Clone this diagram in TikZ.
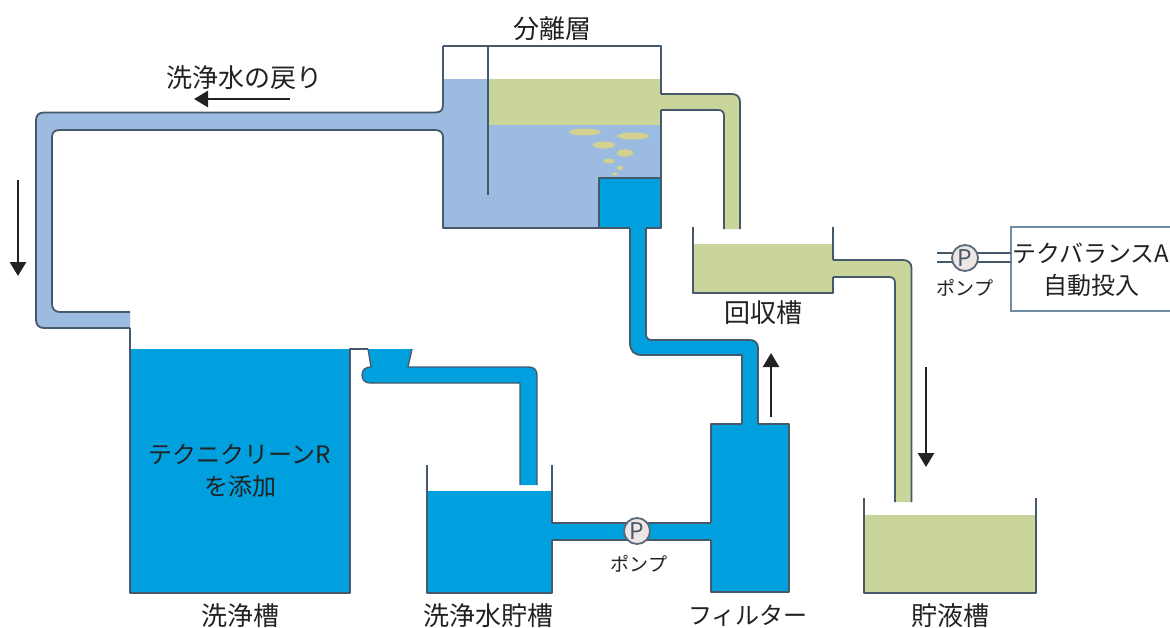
\documentclass[tikz,border=0pt]{standalone}
\usepackage{fontspec}
\setmainfont{Noto Sans CJK JP}
\usetikzlibrary{arrows.meta}
\definecolor{deep}{HTML}{009FDD}
\definecolor{pale}{HTML}{9BBBE0}
\definecolor{olive}{HTML}{C9D59B}
\definecolor{bub}{HTML}{D2D190}
\definecolor{wall}{HTML}{46596B}
\definecolor{steel}{HTML}{6F8CA5}
\definecolor{ink}{HTML}{222222}
\definecolor{pumpfill}{HTML}{EDE6E4}
\tikzset{
  wallline/.style={draw=wall,line width=1.8pt,line join=round},
  thinwall/.style={draw=wall,line width=1.3pt,line join=round},
  boxline/.style={draw=steel,line width=1.8pt},
  flowarrow/.style={draw=ink,line width=2.6pt,-{Triangle[length=14pt,width=16pt]}},
  lab/.style={font=\fontsize{26}{31}\selectfont,text=ink,inner sep=0pt,align=center},
  katalab/.style={font=\fontsize{24}{32}\selectfont,text=ink,inner sep=0pt,align=center},
  smalllab/.style={font=\fontsize{19}{22}\selectfont,text=ink,inner sep=0pt},
  pumpc/.style={circle,draw=wall!90,line width=1.8pt,fill=pumpfill,minimum size=26pt,inner sep=0pt,font=\fontsize{23}{23}\selectfont,text=wall}
}
\begin{document}
\begin{tikzpicture}[x=1pt,y=-1pt]
\useasboundingbox (0,0) rectangle (1170,627);
\fill[white] (0,0) rectangle (1170,627);

% ---- separator
\fill[pale] (443,79) rectangle (661,228);
\fill[olive] (488,79) rectangle (661,125);
\foreach \x/\y/\a/\b in {585/132/16/3.5,633/136/16/3.5,604/145/11/3.5,625/153/8/3.8,609/161/5.5/2.5,620/168/3/2.5,615/174/3/1.5}
  \fill[bub] (\x,\y) ellipse [x radius=\a pt,y radius=\b pt];
% return pipe (pale)
\fill[pale] (443,104) .. controls (443,110) and (441,112.5) .. (435,112.5) -- (44,112.5) .. controls (39,112.5) and (36,115) .. (36,120) -- (36,320) .. controls (36,325) and (39,328) .. (44,328) -- (130,328) -- (130,312) -- (60,312) .. controls (55,312) and (52,309) .. (52,304) -- (52,137) .. controls (52,132) and (55,130) .. (60,130) -- (435,130) .. controls (441,130) and (443,133) .. (443,138) -- cycle;
\draw[wallline] (443,46) -- (443,104) .. controls (443,110) and (441,112.5) .. (435,112.5) -- (44,112.5) .. controls (39,112.5) and (36,115) .. (36,120) -- (36,320) .. controls (36,325) and (39,328) .. (44,328) -- (130,328);
\draw[wallline] (130,312) -- (60,312) .. controls (55,312) and (52,309) .. (52,304) -- (52,137) .. controls (52,132) and (55,130) .. (60,130) -- (435,130) .. controls (441,130) and (443,133) .. (443,138) -- (443,228) -- (599,228);
\draw[wallline] (443,46) -- (661,46) -- (661,94);
\draw[wallline] (488,46) -- (488,195);
% green outlet
\fill[olive] (661,94) -- (732,94) .. controls (737,94) and (740,97) .. (740,102) -- (740,229) -- (724,229) -- (724,116) .. controls (724,112) and (722,110) .. (718,110) -- (661,110) -- cycle;
\draw[wallline] (661,94) -- (732,94) .. controls (737,94) and (740,97) .. (740,102) -- (740,229);
\draw[wallline] (661,110) -- (718,110) .. controls (722,110) and (724,112) .. (724,116) -- (724,229);
\draw[wallline] (661,110) -- (661,178);

% ---- separator inlet block and rising pipe
\fill[deep] (599,178) rectangle (661,228);
\fill[deep] (630,228) -- (630,343) .. controls (630,351) and (634,355) .. (642,355) -- (742,355) -- (742,424) -- (758,424) -- (758,348) .. controls (758,343) and (755,340) .. (750,340) -- (652,340) .. controls (648,340) and (646,338) .. (646,334) -- (646,228) -- cycle;
\draw[wallline] (599,228) -- (599,178) -- (661,178) -- (661,228) -- (646,228);
\draw[wallline] (599,228) -- (630,228);
\draw[wallline] (630,228) -- (630,343) .. controls (630,351) and (634,355) .. (642,355) -- (742,355) -- (742,424);
\draw[wallline] (646,228) -- (646,334) .. controls (646,338) and (648,340) .. (652,340) -- (750,340) .. controls (755,340) and (758,343) .. (758,348) -- (758,424);

% ---- wash tank
\fill[deep] (130,349) rectangle (350,593);
\draw[thinwall] (130,328) -- (130,593) -- (350,593) -- (350,349) -- (368,349);
% funnel and pipe
\fill[deep] (368,349) -- (412,349) -- (408,367) -- (529,367) .. controls (534,367) and (537,370) .. (537,375) -- (537,485) -- (520,485) -- (520,383) -- (370,383) .. controls (365,383) and (362,380) .. (362,375) .. controls (362,370) and (365,367) .. (371,367) -- cycle;
\draw[thinwall] (368,349) -- (371,367) .. controls (365,367) and (362,370) .. (362,375) .. controls (362,380) and (365,383) .. (370,383) -- (520,383) -- (520,485);
\draw[thinwall] (412,349) -- (408,367) -- (529,367) .. controls (534,367) and (537,370) .. (537,375) -- (537,485);

% ---- wash water storage tank
\fill[deep] (427,491) rectangle (552,593);
\draw[wallline] (427,465) -- (427,593) -- (552,593) -- (552,540);
\draw[wallline] (552,523) -- (552,465);
% connecting pipe
\fill[deep] (552,523) rectangle (711,540);
\draw[wallline] (552,523) -- (711,523);
\draw[wallline] (552,540) -- (711,540);
% ---- filter
\fill[deep] (711,424) rectangle (789,592);
\draw[wallline] (742,424) -- (711,424) -- (711,523);
\draw[wallline] (711,540) -- (711,592) -- (789,592) -- (789,424) -- (758,424);
\node[pumpc] (pumpa) at (637,531) {P};
\node[smalllab] (pumpalab) at (639,564) {ポンプ};

% ---- recovery tank
\fill[olive] (693,244) rectangle (833,293);
\draw[wallline] (693,227) -- (693,293) -- (833,293) -- (833,277);
\draw[wallline] (833,227) -- (833,260);
\fill[olive] (833,260) -- (903,260) .. controls (908,260) and (911.5,263) .. (911.5,268) -- (911.5,502) -- (895,502) -- (895,283) .. controls (895,279) and (893,277) .. (889,277) -- (833,277) -- cycle;
\draw[wallline] (833,260) -- (903,260) .. controls (908,260) and (911.5,263) .. (911.5,268) -- (911.5,502);
\draw[wallline] (833,277) -- (889,277) .. controls (893,277) and (895,279) .. (895,283) -- (895,502);

% ---- liquid storage tank
\fill[olive] (864,515) rectangle (1036,593);
\draw[wallline] (864,498) -- (864,593) -- (1036,593) -- (1036,498);

% ---- dosing box and pump
\draw[boxline] (1172,227) -- (1011,227) -- (1011,311) -- (1172,311);
\draw[wallline] (937,253) -- (1011,253);
\draw[wallline] (937,262) -- (1011,262);
\node[pumpc] (pumpb) at (965,258) {P};
\node[smalllab] (pumpblab) at (965,288) {ポンプ};

% ---- arrows
\coordinate (ar1s) at (290,99); \coordinate (ar1e) at (194,99);
\coordinate (ar2s) at (18,180); \coordinate (ar2e) at (18,276);
\coordinate (ar3s) at (771,417); \coordinate (ar3e) at (771,353);
\coordinate (ar4s) at (926,367); \coordinate (ar4e) at (926,467);
\draw[flowarrow] (ar1s) -- (ar1e);
\draw[flowarrow] (ar2s) -- (ar2e);
\draw[flowarrow] (ar3s) -- (ar3e);
\draw[flowarrow] (ar4s) -- (ar4e);

% ---- labels
\node[lab] (sep) at (552,29) {分離層};
\node[lab] (ret) at (244,78) {洗浄水の戻り};
\node[katalab] (chem) at (240,471) {テクニクリーンR\\を添加};
\node[lab] (t1) at (240,616) {洗浄槽};
\node[lab] (t2) at (488,616) {洗浄水貯槽};
\node[katalab] (t3) at (748,616) {フィルター};
\node[lab] (t4) at (950,616) {貯液槽};
\node[lab] (t5) at (763,313) {回収槽};
\node[katalab] (bal) at (1091,270) {テクバランスA\\自動投入};
\end{tikzpicture}
\end{document}
